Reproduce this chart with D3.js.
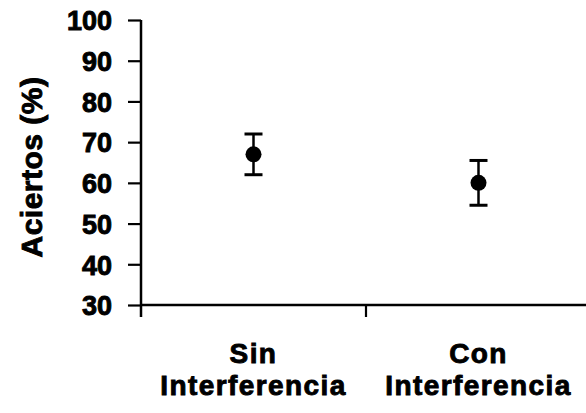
<!DOCTYPE html>
<html>
<head>
<meta charset="utf-8">
<script src="https://cdn.jsdelivr.net/npm/d3@7"></script>
<style>
  html, body { margin: 0; padding: 0; background: #fff; }
  svg { display: block; }
  text { font-family: "Liberation Sans", Arial, sans-serif; font-weight: bold; fill: #000; stroke: #000; stroke-width: 0.9px; }
</style>
</head>
<body>
<svg id="chart" width="586" height="413"></svg>
<script>
const categories = ["Sin Interferencia", "Con Interferencia"];
const labelLines = [["Sin", "Interferencia"], ["Con", "Interferencia"]];
const means = [67, 60];
const upper = [72, 65.5];
const lower = [62, 54.5];
const yTicks = [30, 40, 50, 60, 70, 80, 90, 100];
const yTitle = "Aciertos (%)";

(function () {
const svg = d3.select("#chart");
const W = 586, H = 413;
const mLeft = 141, mRight = 591, mTop = 20, mBottom = 305;

const y = d3.scaleLinear().domain([30, 100]).range([mBottom, mTop]);
const x = d3.scaleBand().domain(categories).range([mLeft, mRight]).padding(0);

// Y axis
const yAxis = svg.append("g")
  .attr("transform", `translate(${mLeft},0)`)
  .call(d3.axisLeft(y).tickValues(yTicks).tickSize(13).tickPadding(16).tickFormat(d3.format("d")));
yAxis.select(".domain").attr("stroke", "#000").attr("stroke-width", 2.5).attr("d", `M0,${mTop}V${mBottom + 12}`);
yAxis.selectAll(".tick line").attr("stroke", "#000").attr("stroke-width", 2.2);
yAxis.selectAll(".tick text")
  .style("font-size", "27px").style("font-family", "'Liberation Sans', Arial, sans-serif")
  .style("font-weight", "bold").attr("fill", "#000").attr("dy", "0.36em");

// X axis line
svg.append("line").attr("x1", mLeft).attr("x2", W).attr("y1", mBottom).attr("y2", mBottom)
  .attr("stroke", "#000").attr("stroke-width", 2.5);
// boundary ticks
const bounds = categories.map(c => x(c)).concat([x(categories[categories.length - 1]) + x.bandwidth()]);
svg.selectAll(".xtick").data(bounds.slice(1)).join("line")
  .attr("class", "xtick")
  .attr("x1", d => d).attr("x2", d => d)
  .attr("y1", mBottom).attr("y2", mBottom + 12)
  .attr("stroke", "#000").attr("stroke-width", 2.2);

// Category labels
const labels = svg.selectAll(".xlabel").data(categories).join("text")
  .attr("class", "xlabel")
  .attr("text-anchor", "middle")
  .style("font-size", "28px")
  .style("letter-spacing", "1.4px");
labels.each(function (d, i) {
  const cx = x(d) + x.bandwidth() / 2;
  const t = d3.select(this);
  labelLines[i].forEach((line, j) => {
    t.append("tspan").attr("x", cx).attr("y", 363 + j * 32).text(line);
  });
});

// Y title
svg.append("text")
  .attr("transform", `translate(42,167) rotate(-90)`)
  .attr("text-anchor", "middle")
  .style("font-size", "30px")
  .style("letter-spacing", "0.5px")
  .text(yTitle);

// Error bars and points
const g = svg.append("g");
categories.forEach((c, i) => {
  const cx = x(c) + x.bandwidth() / 2;
  g.append("line").attr("x1", cx).attr("x2", cx).attr("y1", y(upper[i])).attr("y2", y(lower[i]))
    .attr("stroke", "#000").attr("stroke-width", 2.5);
  [upper[i], lower[i]].forEach(v => {
    g.append("line").attr("x1", cx - 9).attr("x2", cx + 9).attr("y1", y(v)).attr("y2", y(v))
      .attr("stroke", "#000").attr("stroke-width", 3);
  });
  g.append("circle").attr("cx", cx).attr("cy", y(means[i])).attr("r", 8).attr("fill", "#000");
});
})();
</script>
</body>
</html>
